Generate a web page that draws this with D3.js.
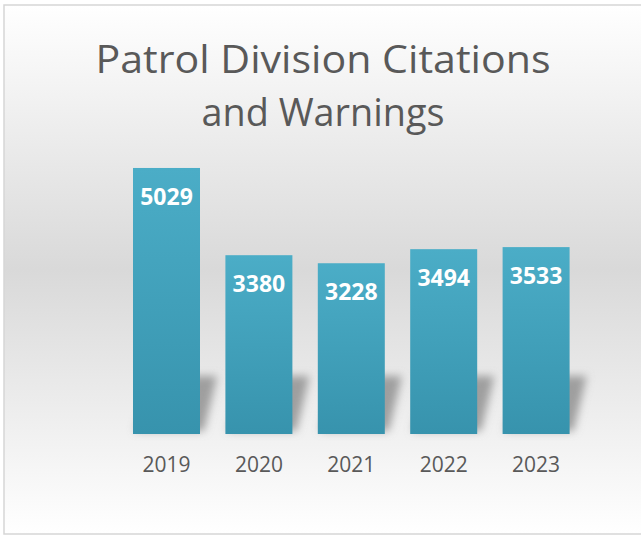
<!DOCTYPE html>
<html>
<head>
<meta charset="utf-8">
<script src="https://cdn.jsdelivr.net/npm/d3@7"></script>
<style>
  body { margin: 0; background: #fff; }
  svg { display: block; font-family: "Open Sans", sans-serif; }
</style>
</head>
<body>
<div id="chart"></div>
<script>
var years = ["2019", "2020", "2021", "2022", "2023"];
var counts = [5029, 3380, 3228, 3494, 3533];
var titleLines = ["Patrol Division Citations", "and Warnings"];

var width = 641, height = 536;

var svg = d3.select("#chart").append("svg")
  .attr("width", width)
  .attr("height", height);

var defs = svg.append("defs");

// background: white -> grey -> white
var bg = defs.append("linearGradient")
  .attr("id", "bg")
  .attr("x1", 0).attr("y1", 0).attr("x2", 0).attr("y2", 1);
bg.append("stop").attr("offset", "0%").attr("stop-color", "#ffffff");
bg.append("stop").attr("offset", "50%").attr("stop-color", "#d9d9d9");
bg.append("stop").attr("offset", "100%").attr("stop-color", "#ffffff");

var barGrad = defs.append("linearGradient")
  .attr("id", "barGrad")
  .attr("x1", 0).attr("y1", 0).attr("x2", 0).attr("y2", 1);
barGrad.append("stop").attr("offset", "0%").attr("stop-color", "#4badc7");
barGrad.append("stop").attr("offset", "100%").attr("stop-color", "#3793ad");

var blur = defs.append("filter")
  .attr("id", "blur")
  .attr("x", "-50%").attr("y", "-50%")
  .attr("width", "200%").attr("height", "200%");
blur.append("feGaussianBlur").attr("stdDeviation", 4);

svg.append("rect")
  .attr("x", 4).attr("y", 5)
  .attr("width", 700).attr("height", 529)
  .attr("fill", "url(#bg)")
  .attr("stroke", "#d6d6d6")
  .attr("stroke-width", 1.5);

// title, two lines
svg.append("g").selectAll("text")
  .data(titleLines)
  .enter().append("text")
    .attr("x", 323)
    .attr("y", function(d, i) { return 73 + i * 53; })
    .attr("text-anchor", "middle")
    .attr("font-size", 38)
    .attr("fill", "#595959")
    .attr("textLength", function(d, i) { return i == 0 ? 455 : 243; })
    .attr("lengthAdjust", "spacingAndGlyphs")
    .text(function(d) { return d; });

var x = d3.scaleBand()
  .domain(years)
  .range([120.3, 582.3])
  .paddingInner(0.275)
  .paddingOuter(0.1375);

var y = d3.scaleLinear()
  .domain([0, 6000])
  .range([434, 116.6]);

// perspective shadows behind the bars
var base = y(0);
svg.append("g")
  .attr("filter", "url(#blur)")
  .selectAll("path")
  .data(years)
  .enter().append("path")
    .attr("d", function(d) {
      var x0 = x(d), x1 = x(d) + x.bandwidth();
      return "M" + (x0 + 2) + "," + (base - 3) +
        "L" + (x1 + 4) + "," + (base - 3) +
        "L" + (x1 + 17) + "," + (base - 58) +
        "L" + (x0 + 22) + "," + (base - 58) + "Z";
    })
    .attr("fill", "#8c8c8c")
    .attr("opacity", 0.8);

svg.append("g").selectAll("rect")
  .data(counts)
  .enter().append("rect")
    .attr("x", function(d, i) { return x(years[i]); })
    .attr("y", function(d) { return y(d); })
    .attr("width", x.bandwidth())
    .attr("height", function(d) { return y(0) - y(d); })
    .attr("fill", "url(#barGrad)");

svg.append("g").selectAll("text")
  .data(counts)
  .enter().append("text")
    .attr("x", function(d, i) { return x(years[i]) + x.bandwidth() / 2; })
    .attr("y", function(d) { return y(d) + 37; })
    .attr("text-anchor", "middle")
    .attr("font-size", 23)
    .attr("font-weight", "bold")
    .attr("fill", "#ffffff")
    .text(function(d) { return d; });

var xAxis = svg.append("g")
  .attr("transform", "translate(0," + base + ")")
  .call(d3.axisBottom(x).tickSize(0));
xAxis.select(".domain").remove();
xAxis.selectAll("text")
  .attr("y", 38)
  .attr("dy", null)
  .attr("font-size", 21)
  .attr("font-family", "'Open Sans', sans-serif")
  .attr("fill", "#595959");
</script>
</body>
</html>
